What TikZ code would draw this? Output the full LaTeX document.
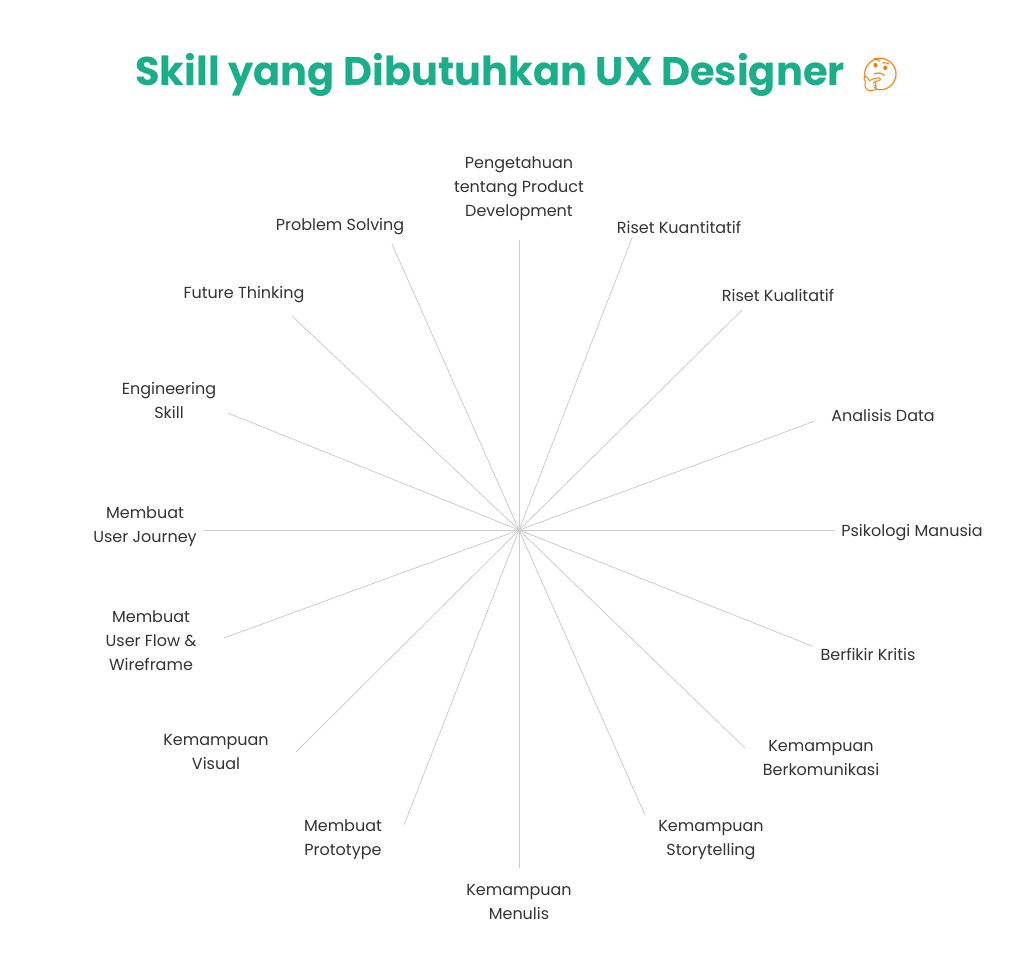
\documentclass[tikz,border=0pt]{standalone}
\usepackage{fontspec}
\setmainfont{Poppins}
\newfontfamily\emojifont{Noto Emoji}
\usepackage{tikz}
\usetikzlibrary{positioning}
\definecolor{teal}{HTML}{1AAE8A}
\definecolor{ink}{HTML}{333333}
\definecolor{spoke}{HTML}{CCCCCC}
\begin{document}
\begin{tikzpicture}[x=1pt, y=-1pt,
    skill/.style = {text=ink, font=\fontsize{16}{24}\selectfont, align=center},
    ray/.style = {draw=spoke, line width=0.8pt}]
   \useasboundingbox (0,0) rectangle (1024,978);
   \node[text=teal, font=\fontsize{40}{44}\selectfont\bfseries] (title) at (490,75) {Skill yang Dibutuhkan UX Designer};
   \node[font=\fontsize{32}{32}\emojifont, text=orange!80!brown] (emoji) [right = 8pt of title] {🤔};
   \coordinate (hub) at (519,530);
   % spokes and labels
   \foreach \ex/\ey/\lx/\ly/\txt [count=\i] in {
      519/240/519/189/{Pengetahuan\\tentang Product\\Development},
      632/238/679/227/{Riset Kuantitatif},
      742/310/778/295/{Riset Kualitatif},
      815/421/883/415/{Analisis Data},
      835/530/912/533/{Psikologi Manusia},
      812/646/868/654/{Berfikir Kritis},
      745/748/821/758/{Kemampuan\\Berkomunikasi},
      645/815/711/840/{Kemampuan\\Storytelling},
      519/868/519/902/{Kemampuan\\Menulis},
      404/825/343/840/{Membuat\\Prototype},
      296/752/216/752/{Kemampuan\\Visual},
      224/638/151/641/{Membuat\\User Flow \&\\Wireframe},
      203/530/145/527/{Membuat\\User Journey},
      228/413/169/400/{Engineering\\Skill},
      292/316/244/295/{Future Thinking},
      392/244/340/227/{Problem Solving}} {
     \coordinate (end\i) at (\ex,\ey);
     \node[skill] (skill\i) at (\lx,\ly) {\txt};
     \draw[ray] (hub) -- (end\i);
   }
\end{tikzpicture}
\end{document}
